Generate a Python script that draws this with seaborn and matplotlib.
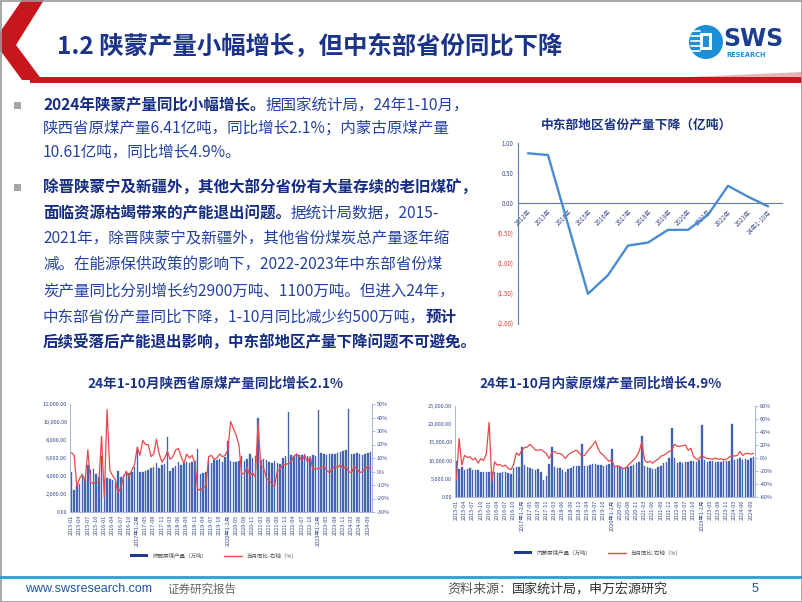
import numpy as np
import pandas as pd
import matplotlib
matplotlib.use('Agg')
import matplotlib.pyplot as plt
import seaborn as sns
from matplotlib.patches import Polygon, Rectangle, Circle
from matplotlib.lines import Line2D
from matplotlib.ticker import FuncFormatter

# ---------------- data ----------------
region_years = ['2012年', '2013年', '2014年', '2015年', '2016年', '2017年', '2018年',
                '2019年', '2020年', '2021年', '2022年', '2023年', '24年1-10月']
region_change = [0.83, 0.80, -0.35, -1.50, -1.19, -0.70, -0.65, -0.44, -0.44, -0.19, 0.29, 0.11, -0.05]

month_labels = ([f'{y}-{m:02d}' for y in (2015, 2016) for m in range(1, 13)]
                + [lab for y in range(2017, 2025)
                   for lab in [f'{y}年1-2月'] + [f'{y}-{m:02d}' for m in range(3, 13 if y < 2024 else 11)]])

sx_output = [4400, 2500, 3000, 3100, 4000, 3700, 5200, 4700, 4800, 4200, 3900, 6200,
             3600, 3800, 3700, 3600, 3500, 4600, 3900, 4100, 4600, 4300, 4400, 5000,
             7200, 4500, 4500, 4600, 4700, 4900, 5000, 5500, 4900, 5200, 5300,
             8300, 4600, 4900, 5100, 5600, 5200, 5400, 5600, 5400, 5600, 5700,
             7000, 4200, 4300, 4500, 5700, 5500, 5800, 5800, 5900, 5600, 6100,
             7900, 5700, 5600, 5600, 5700, 6200, 5700, 5900, 6400, 6000, 6200,
             10500, 5800, 5900, 5800, 5600, 5400, 5700, 5500, 5300, 6000, 6200,
             11100, 6300, 6200, 6400, 6300, 6300, 6400, 6200, 6000, 6300, 6200,
             11300, 6600, 6400, 6300, 6400, 6500, 6500, 6600, 6700, 6800, 6900,
             11400, 6400, 6500, 6600, 6500, 6300, 6500, 6600, 6700]
sx_yoy = [14, 12, -11, -5, -2, -7, 16, -8, -9, -8, -8, 26,
          -19, 46, 1, -3, -6, -16, -12, -4, 0, -4, 1, 5,
          18, 12, 23, 20, 20, 11, 13, 24, 13, 7, 10,
          15, 9, 11, 16, 17, 11, 6, 13, 10, 12, 6,
          -13, -14, -12, -11, 11, 12, 9, 10, 13, 11, 12,
          16, 37, 32, 27, 20, -2, -1, 3, -3, -1, -4,
          36, 4, 3, -5, -7, -9, -11, 0, 2, 5, 5,
          6, 7, 11, 13, 11, 8, 12, 7, 11, 1, 2,
          2, 3, 4, 1, -1, 2, 4, 3, 5, 2, 4,
          0, -1, 4, 2, -1, 0, 2, 4, 2]

im_output = [10000, 7800, 8200, 7500, 7700, 8100, 7400, 7300, 7300, 7000, 6900, 7000,
             7000, 6900, 6800, 6600, 6700, 6800, 6900, 6700, 6300, 8100, 8300, 8300,
             13600, 8700, 8300, 7900, 7700, 7300, 7600, 7000, 4600, 5700, 9000,
             13700, 8200, 7900, 8000, 7300, 6900, 7800, 8100, 8400, 8400, 8500,
             14500, 8400, 8500, 8800, 9100, 9000, 8800, 8700, 8600, 8800, 9000,
             13200, 8500, 8400, 8200, 8000, 8200, 8300, 8500, 8900, 9300, 9600,
             16800, 8500, 8300, 8000, 7800, 7700, 8200, 8500, 9300, 9700, 10600,
             19000, 10700, 9400, 9600, 9300, 9500, 9600, 9800, 10000, 9700, 10100,
             19700, 10300, 9600, 9800, 9800, 9600, 9600, 9700, 9800, 9900, 10000,
             20100, 10100, 10400, 10600, 10300, 10500, 10200, 10800, 11000]
im_yoy = [-34, 30, -11, 4, 1, 2, -3, 0, -8, -1, -4, 7,
          55, -36, -6, -11, -10, -13, -11, -16, -18, -10, 8, 4,
          12, 16, 17, 21, 17, 12, 12, 13, 10, 7, -1,
          8, 10, 7, 7, 4, -1, 5, 8, 10, 12, 8,
          3, 4, 10, 15, 20, 26, 14, 7, 4, -1, -5,
          -3, -14, -12, -13, -16, -16, -11, -7, -3, 2, 10,
          25, -3, -7, -5, -8, -4, -2, 3, 4, 7, 10,
          12, 21, 18, 18, 19, 20, 12, 15, 2, -2, -1,
          4, 1, -1, -1, -2, 0, -2, -1, -3, -2, 1,
          4, 3, 4, 10, 4, 7, 7, 6, 7]

# ---------------- style ----------------
sns.set_style('white')
plt.rcParams['font.family'] = ['Noto Sans CJK SC', 'DejaVu Sans']
plt.rcParams['axes.unicode_minus'] = False

W, H = 802, 602
fig = plt.figure(figsize=(W / 100, H / 100), dpi=100)
renderer = fig.canvas.get_renderer()

NAVY = '#1c3488'
TEXT_C = '#2442a0'
BOLD_C = '#142c82'
BAR_C = '#4464b0'
RED = '#e8484c'
TICK_C = '#3a4a8c'


def frect(x0, y0, x1, y1):
    return [x0 / W, 1 - y1 / H, (x1 - x0) / W, (y1 - y0) / H]


# overlay axes in pixel coordinates
ov = fig.add_axes([0, 0, 1, 1])
ov.set_xlim(0, W)
ov.set_ylim(H, 0)
ov.axis('off')

# header shapes
ov.add_patch(Polygon([(22, 0), (44, 0), (16, 45), (42, 80), (22, 80), (0, 50), (0, 32)],
                     closed=True, color='#c8161d', lw=0))
ov.add_patch(Polygon([(30, 77), (802, 77), (802, 83), (30, 83)], closed=True, color='#c8161d', lw=0))
ov.add_patch(Polygon([(690, 77), (802, 72), (802, 77)], closed=True, color='#e3b5b6', lw=0))
ov.text(57, 46, '1.2 陕蒙产量小幅增长，但中东部省份同比下降', fontsize=17.6, color=NAVY,
        ha='left', va='center', fontweight='bold')

# logo
ov.add_patch(Circle((706, 42), 17, color='#1d8fd6', lw=0))
for yy in (31, 36, 41, 46, 51):
    ov.add_line(Line2D([691, 700], [yy, yy], color='white', lw=1.2))
ov.add_patch(Rectangle((700, 33), 12, 17, facecolor='white', edgecolor='none'))
ov.add_patch(Rectangle((703, 36), 6, 11, facecolor='#1d8fd6', edgecolor='none'))
ov.text(723, 39, 'SWS', fontsize=17, fontweight='bold', color='#1b3e8f', ha='left', va='center',
        family='DejaVu Sans')
ov.text(726, 55, 'RESEARCH', fontsize=4.8, fontweight='bold', color='#1d8fd6', ha='left', va='center',
        family='DejaVu Sans')

# bullets and text
lines = [
    (105, [('2024年陕蒙产量同比小幅增长。', True), ('据国家统计局，24年1-10月，', False)]),
    (128, [('陕西省原煤产量6.41亿吨，同比增长2.1%；内蒙古原煤产量', False)]),
    (152, [('10.61亿吨，同比增长4.9%。', False)]),
    (187, [('除晋陕蒙宁及新疆外，其他大部分省份有大量存续的老旧煤矿，', True)]),
    (213, [('面临资源枯竭带来的产能退出问题。', True), ('据统计局数据，2015-', False)]),
    (239, [('2021年，除晋陕蒙宁及新疆外，其他省份煤炭总产量逐年缩', False)]),
    (265, [('减。在能源保供政策的影响下，2022-2023年中东部省份煤', False)]),
    (291, [('炭产量同比分别增长约2900万吨、1100万吨。但进入24年，', False)]),
    (317, [('中东部省份产量同比下降，1-10月同比减少约500万吨，', False), ('预计', True)]),
    (342, [('后续受落后产能退出影响，中东部地区产量下降问题不可避免。', True)]),
]
for by in (105, 187):
    ov.add_patch(Rectangle((14, by - 3.5), 7, 7, facecolor='#a6a6a6', edgecolor='none'))
for y, segs in lines:
    x = 43
    for txt, bold in segs:
        t = ov.text(x, y, txt, fontsize=11.2, fontweight='bold' if bold else 'normal',
                    color=BOLD_C if bold else TEXT_C, ha='left', va='center')
        x += t.get_window_extent(renderer=renderer).width

# ---------------- top-right line chart ----------------
ax3 = fig.add_axes(frect(518, 143, 782, 324))
ax3.set_facecolor('none')
sns.lineplot(x=np.arange(len(region_years)), y=region_change, ax=ax3, color='#4a8bd0', lw=1.7)
ax3.set_xlim(-0.5, 12.7)
ax3.set_ylim(-2, 1)
yt = [1.0, 0.5, 0.0, -0.5, -1.0, -1.5, -2.0]
ax3.set_yticks(yt)
ax3.set_yticklabels([f'{v:.2f}' if v >= 0 else f'({-v:.2f})' for v in yt], fontsize=4.4)
for lab, v in zip(ax3.get_yticklabels(), yt):
    lab.set_color(TICK_C if v >= 0 else '#e03a3a')
ax3.spines['bottom'].set_position(('data', 0))
for s in ('top', 'right'):
    ax3.spines[s].set_visible(False)
for s in ('left', 'bottom'):
    ax3.spines[s].set_color('#5a7fc0')
    ax3.spines[s].set_linewidth(0.8)
ax3.set_xticks(np.arange(len(region_years)))
ax3.set_xticklabels(region_years, rotation=45, ha='right', va='top', rotation_mode='anchor',
                    fontsize=4.4, color=TICK_C)
ax3.tick_params(axis='both', length=2, width=0.5, color='#5a7fc0', pad=1.5)
ax3.set_xlabel('')
ax3.set_ylabel('')
ov.text(637, 125, '中东部地区省份产量下降（亿吨）', fontsize=9.2, fontweight='bold', color=NAVY,
        ha='center', va='center')


# ---------------- bottom dual charts ----------------
def dual_chart(box, output, yoy, lmax, lstep, rmin, rmax, rstep, title, title_x, leg_x, leg_y, bar_name):
    ax = fig.add_axes(frect(*box))
    ax.set_facecolor('none')
    df = pd.DataFrame({'月份': month_labels, '产量': output, '同比': yoy})
    sns.barplot(data=df, x='月份', y='产量', color=BAR_C, saturation=1, width=0.55,
                edgecolor=BAR_C, linewidth=0.25, ax=ax)
    ax2 = ax.twinx()
    sns.lineplot(x=np.arange(len(month_labels)), y=df['同比'].values, ax=ax2, color=RED, lw=0.9)
    n = len(month_labels)
    ax.set_xlim(-0.5, n - 0.5)
    ax2.set_xlim(-0.5, n - 0.5)
    ax.set_ylim(0, lmax)
    ax.set_yticks(np.arange(0, lmax + 1, lstep))
    ax.yaxis.set_major_formatter(FuncFormatter(lambda v, p: f'{v:,.2f}'))
    ax2.set_ylim(rmin, rmax)
    ax2.set_yticks(np.arange(rmin, rmax + 1, rstep))
    ax2.yaxis.set_major_formatter(FuncFormatter(lambda v, p: f'{v:.0f}%'))
    ax.set_xticks(np.arange(0, n, 3))
    ax.set_xticklabels(month_labels[::3], rotation=90, fontsize=4, color=TICK_C)
    ax.tick_params(axis='x', length=0, pad=2)
    ax.tick_params(axis='y', length=0, labelsize=4, labelcolor=TICK_C, pad=2)
    ax2.tick_params(axis='y', length=2, width=0.5, color='#8ea3cf', labelsize=4, labelcolor=TICK_C, pad=1.5)
    for a in (ax, ax2):
        a.set_xlabel('')
        a.set_ylabel('')
        a.spines['top'].set_visible(False)
        for s in ('left', 'right', 'bottom'):
            a.spines[s].set_color('#a9b8da')
            a.spines[s].set_linewidth(0.7)
    ov.text(title_x, 384, title, fontsize=9.8, fontweight='bold', color=NAVY, ha='center', va='center')
    handles = [Rectangle((0, 0), 1, 1, facecolor='#1f3a8f', edgecolor='none'),
               Line2D([0], [0], color=RED, lw=1)]
    fig.legend(handles, [bar_name, '当月同比-右轴（%）'], loc='center',
               bbox_to_anchor=(leg_x / W, 1 - leg_y / H), ncol=2, frameon=False, fontsize=4,
               handlelength=3.2, handleheight=0.5, columnspacing=3, labelcolor='#555555')


dual_chart((70, 404, 372, 512), sx_output, sx_yoy, 12000, 2000, -30, 50, 10,
           '24年1-10月陕西省原煤产量同比增长2.1%', 215, 214, 556, '陕西原煤产量（万吨）')
dual_chart((455, 406, 755, 497), im_output, im_yoy, 25000, 5000, -60, 80, 20,
           '24年1-10月内蒙原煤产量同比增长4.9%', 601, 598, 553, '内蒙原煤产量（万吨）')

# ---------------- footer ----------------
ov.add_line(Line2D([0, W], [577, 577], color='#2b9fd0', lw=2))
ov.text(25, 589, 'www.swsresearch.com', fontsize=9, color='#1d55a8', ha='left', va='center',
        family='Liberation Sans')
ov.text(167, 589, '证券研究报告', fontsize=8.3, color='#666666', ha='left', va='center')
t = ov.text(447, 589, '资料来源：', fontsize=9.4, color='#555555', ha='left', va='center')
xx = 447 + t.get_window_extent(renderer=renderer).width
ov.text(xx, 589, '国家统计局，申万宏源研究', fontsize=9.4, color='#333333', ha='left', va='center')
ov.text(752, 589, '5', fontsize=9, color='#1d55a8', ha='left', va='center', family='Liberation Sans')

# frame
ov.add_patch(Rectangle((0.5, 0.5), W - 1, H - 1, facecolor='none', edgecolor='#9a9a9a', lw=1.2))

fig.savefig('out.png', dpi=100)
